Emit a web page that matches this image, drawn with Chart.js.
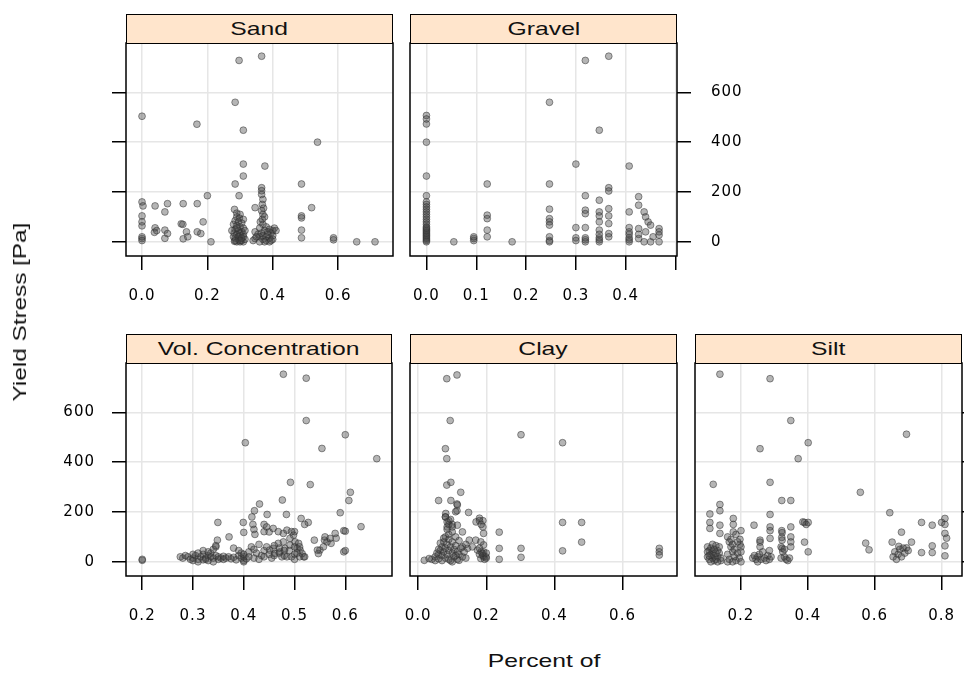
<!DOCTYPE html>
<html>
<head>
<meta charset="utf-8">
<script src="https://cdn.jsdelivr.net/npm/chart.js@4.4.1/dist/chart.umd.min.js"></script>
<style>
body { margin:0; width:964px; height:673px; overflow:hidden; background:#fff; position:relative; font-family:"Liberation Sans", Arial, sans-serif; }
.panel { position:absolute; }
.strip { position:absolute; height:30px; box-sizing:border-box; border:1.5px solid #000; background:#ffe5cc;
  display:flex; align-items:center; justify-content:center; font-size:19px; color:#111; }
.strip span, .lab span { display:inline-block; }
.lab { position:absolute; font-size:19px; color:#111; white-space:nowrap; }
</style>
</head>
<body>
<script>
// ---- data ----
const yTicks = [0, 200, 400, 600];

const sandTicks = [0, 0.2, 0.4, 0.6];
const sandPts = [
  [0.0,504],[0.297,728],[0.366,745],[0.285,560],[0.168,472],[0.31,448],[0.537,400],[0.31,312],[0.376,304],
  [0.31,264],[0.285,232],[0.488,232],[0.2,185],[0.297,185],[0.366,217],[0.366,205],[0.0,160],[0.003,144],
  [0.04,144],[0.078,153],[0.07,120],[0.126,153],[0.169,153],[0.519,137],[0.346,137],[0.488,104],[0.488,96],
  [0.0,104],[0.0,80],[0.0,64],[0.0,13],[0.0,20],[0.0,5],[0.04,56],[0.038,38],[0.045,45],[0.07,47],[0.078,33],
  [0.07,14],[0.12,72],[0.125,70],[0.136,40],[0.126,12],[0.14,20],[0.187,80],[0.169,40],[0.18,33],[0.211,0],
  [0.346,40],[0.346,13],[0.34,5],[0.488,47],[0.488,16],[0.586,16],[0.586,8],[0.657,0],[0.713,0],
  [0.283,130],[0.29,115],[0.3,110],[0.29,100],[0.298,95],[0.31,90],[0.285,85],[0.295,80],[0.305,75],[0.28,70],
  [0.29,65],[0.3,60],[0.31,55],[0.285,50],[0.295,45],[0.305,40],[0.282,35],[0.29,30],[0.3,25],[0.31,20],
  [0.285,15],[0.295,10],[0.305,5],[0.29,0],[0.3,0],[0.31,0],[0.283,2],[0.315,10],[0.3,35],[0.29,55],[0.31,30],
  [0.28,20],[0.295,20],[0.305,15],[0.315,45],[0.3,5],[0.285,5],[0.275,45],
  [0.366,190],[0.37,170],[0.368,150],[0.372,135],[0.366,125],[0.37,110],[0.375,100],[0.368,90],[0.362,80],
  [0.37,70],[0.38,60],[0.36,55],[0.39,50],[0.4,45],[0.375,45],[0.385,40],[0.395,35],[0.365,35],[0.355,30],
  [0.37,25],[0.38,20],[0.39,15],[0.4,10],[0.36,20],[0.37,10],[0.38,5],[0.39,0],[0.375,0],[0.36,0],[0.4,25],
  [0.405,55],[0.385,30],[0.35,20],[0.395,5],[0.41,45]
];

const gravelTicks = [0, 0.1, 0.2, 0.3, 0.4, 0.5];
const gravelPts = [
  [0,507],[0,493],[0,473],[0,400],[0,264],[0,185],[0,160],[0,150],[0,140],[0,130],[0,120],[0,110],[0,100],
  [0,90],[0,80],[0,70],[0,60],[0,50],[0,40],[0,30],[0,20],[0,10],[0,0],[0,5],[0,15],[0,25],[0,35],[0,45],[0,55],
  [0.055,0],[0.095,13],[0.095,5],[0.095,20],[0.122,232],[0.122,107],[0.122,93],[0.122,47],[0.122,20],[0.172,0],
  [0.247,560],[0.247,232],[0.247,131],[0.247,93],[0.247,80],[0.247,67],[0.247,20],[0.247,5],[0.247,0],
  [0.319,728],[0.366,745],[0.347,448],[0.3,312],[0.407,304],
  [0.319,185],[0.319,127],[0.319,113],[0.319,57],[0.319,16],[0.319,0],[0.319,8],[0.3,57],[0.3,16],[0.3,5],
  [0.347,167],[0.347,120],[0.347,104],[0.347,80],[0.347,47],[0.347,16],[0.347,0],[0.347,30],[0.347,8],
  [0.366,217],[0.366,204],[0.366,133],[0.366,104],[0.366,73],[0.366,33],[0.366,20],
  [0.407,120],[0.407,57],[0.407,40],[0.407,16],[0.407,0],[0.407,30],[0.407,8],
  [0.426,181],[0.426,147],[0.437,120],[0.44,100],[0.445,80],[0.426,53],[0.426,13],[0.437,0],[0.45,67],[0.45,0],
  [0.426,30],[0.44,40],[0.455,20],[0.467,53],[0.467,27],[0.467,0],[0.467,40]
];

const volTicks = [0.2, 0.3, 0.4, 0.5, 0.6];
const volPts = [
  [0.2,6],[0.2,10],[0.478,753],[0.523,737],[0.523,567],[0.403,478],[0.6,510],[0.554,455],[0.662,414],[0.492,319],
  [0.531,310],[0.61,279],[0.607,246],[0.476,248],[0.431,232],[0.421,205],[0.59,197],[0.484,190],[0.446,190],
  [0.349,158],[0.399,158],[0.513,174],[0.527,158],[0.631,141],[0.597,125],[0.4,118],[0.44,121],[0.5,121],
  [0.371,100],[0.348,87],[0.539,87],[0.559,87],[0.572,74],[0.582,95],[0.597,40],[0.6,45],
  [0.416,180],[0.418,150],[0.42,130],[0.422,110],[0.44,150],[0.445,140],[0.45,120],
  [0.458,134],[0.468,121],[0.478,114],[0.485,127],[0.494,121],[0.498,107],[0.491,94],[0.478,80],[0.468,74],
  [0.458,54],[0.451,47],[0.461,33],[0.471,40],[0.481,54],[0.491,67],[0.501,80],[0.508,74],[0.505,54],[0.511,47],
  [0.515,33],[0.518,20],[0.494,20],[0.485,20],[0.475,20],[0.52,150],
  [0.55,47],[0.557,60],[0.564,80],[0.57,94],[0.58,114],[0.6,123],[0.547,33],[0.545,47],[0.56,100],
  [0.275,20],[0.28,15],[0.285,25],[0.29,20],[0.295,10],[0.3,5],[0.3,15],[0.305,25],[0.31,10],[0.31,0],[0.315,20],
  [0.32,30],[0.32,8],[0.325,15],[0.33,25],[0.33,5],[0.335,35],[0.34,15],[0.34,0],[0.345,25],[0.35,10],[0.35,20],
  [0.355,15],[0.36,10],[0.36,22],[0.365,15],[0.37,20],[0.375,12],[0.38,18],[0.385,8],[0.39,25],[0.395,15],
  [0.4,5],[0.4,20],[0.4,30],[0.4,0],[0.405,12],[0.395,35],[0.3,30],[0.31,35],[0.32,45],[0.33,40],[0.34,50],
  [0.345,60],[0.335,20],[0.325,10],
  [0.345,65],[0.38,55],[0.39,45],[0.41,40],[0.415,60],[0.42,50],[0.43,70],[0.425,35],[0.435,25],[0.44,45],
  [0.445,60],[0.45,30],[0.41,20],[0.42,15],[0.43,10],[0.44,20],[0.455,15],[0.46,25],[0.47,35],[0.47,55],
  [0.46,65],[0.48,45],[0.48,25],[0.5,30],[0.5,10],[0.51,20],[0.5,60],[0.49,45],[0.505,35],[0.51,60],[0.52,20]
];

const clayTicks = [0, 0.2, 0.4, 0.6];
const clayPts = [
  [0.084,735],[0.114,750],[0.094,567],[0.302,510],[0.424,478],[0.08,454],[0.084,414],[0.084,308],[0.096,319],
  [0.125,279],[0.06,246],[0.096,246],[0.114,232],[0.114,205],[0.148,198],[0.18,175],[0.19,165],[0.17,160],
  [0.424,158],[0.48,158],[0.238,119],[0.48,79],[0.238,54],[0.302,54],[0.302,18],[0.238,10],[0.424,44],
  [0.708,54],[0.708,40],[0.708,27],[0.192,114],[0.192,68],[0.192,40],[0.192,20],[0.19,140],
  [0.115,228],[0.11,201],[0.081,194],[0.08,180],[0.09,165],[0.1,150],[0.085,140],[0.115,147],
  [0.13,120],[0.15,87],[0.169,87],[0.184,80],[0.13,60],[0.145,54],[0.159,60],[0.174,47],[0.189,33],[0.199,20],
  [0.184,13],[0.12,6],[0.018,6],[0.032,13],[0.18,165],[0.185,150],
  [0.04,10],[0.05,20],[0.05,5],[0.06,30],[0.06,12],[0.065,45],[0.07,60],[0.07,25],[0.07,5],[0.075,80],
  [0.075,40],[0.08,100],[0.08,15],[0.08,55],[0.085,130],[0.085,70],[0.085,30],[0.09,150],[0.09,110],[0.09,90],
  [0.09,45],[0.09,10],[0.095,170],[0.095,60],[0.1,120],[0.1,80],[0.1,35],[0.1,0],[0.105,50],[0.105,20],
  [0.11,100],[0.11,65],[0.115,40],[0.115,10],[0.12,30],[0.12,85],[0.125,55],[0.13,20],[0.135,40],[0.14,70],
  [0.14,15],[0.06,50],[0.065,75],[0.075,95],[0.08,180],[0.085,160],[0.1,140],[0.11,25],[0.095,5],[0.055,35],
  [0.18,30],[0.185,40],[0.19,25],[0.195,10],[0.2,15],[0.18,55],[0.2,35]
];

const siltTicks = [0.2, 0.4, 0.6, 0.8];
const siltPts = [
  [0.137,753],[0.287,735],[0.349,567],[0.695,512],[0.257,454],[0.401,478],[0.371,414],[0.117,311],[0.287,319],
  [0.557,279],[0.322,246],[0.349,246],[0.137,230],[0.137,205],[0.107,192],[0.645,197],[0.287,190],[0.177,174],
  [0.81,174],[0.74,158],[0.772,147],[0.8,158],[0.39,158],[0.401,158],[0.239,147],[0.107,158],[0.107,134],
  [0.137,147],[0.137,114],[0.2,125],[0.287,140],[0.287,125],[0.322,125],[0.322,98],[0.349,140],[0.349,100],
  [0.349,80],[0.39,79],[0.401,40],[0.573,75],[0.583,48],[0.68,119],[0.652,79],[0.71,79],[0.695,56],[0.772,64],
  [0.74,37],[0.772,37],[0.81,114],[0.81,64],[0.81,24],[0.257,79],[0.81,150],[0.815,95],[0.395,150],
  [0.177,150],[0.177,120],[0.197,90],[0.197,70],[0.257,87],[0.257,60],[0.287,94],[0.323,117],[0.323,87],
  [0.323,54],[0.349,60],[0.385,160],
  [0.1,60],[0.105,45],[0.11,30],[0.115,15],[0.12,5],[0.1,20],[0.105,10],[0.11,55],[0.115,40],[0.12,25],
  [0.125,65],[0.125,10],[0.13,45],[0.13,20],[0.135,35],[0.14,5],[0.11,0],[0.1,40],[0.12,50],[0.135,60],
  [0.14,15],[0.115,70],[0.13,0],[0.105,25],[0.125,35],
  [0.16,100],[0.165,80],[0.17,60],[0.175,40],[0.18,20],[0.185,5],[0.16,30],[0.165,10],[0.17,90],[0.175,70],
  [0.18,50],[0.19,35],[0.195,15],[0.2,0],[0.2,60],[0.19,80],[0.16,0],[0.175,0],[0.185,110],[0.2,40],
  [0.235,15],[0.245,10],[0.25,20],[0.255,30],[0.26,10],[0.27,15],[0.275,5],[0.28,25],[0.285,10],[0.29,20],
  [0.24,25],[0.265,40],[0.285,45],[0.25,0],
  [0.32,60],[0.325,40],[0.33,20],[0.335,10],[0.34,5],[0.345,15],[0.32,15],[0.33,50],
  [0.66,40],[0.67,30],[0.655,20],[0.675,50],[0.68,20],[0.685,55],[0.672,62],[0.665,10],[0.69,35],[0.7,45]
];

// ---- layout ----
const PAD_L = 120, PAD_R = 120, PAD_T = 10, AX_H = 70, AX_W = 90;
const tickFont = { family: 'DejaVu Sans', size: 15 };

const frame = {
  id: 'frame',
  beforeDraw(c) { c.ctx.letterSpacing = '1px'; },
  afterDraw(c) {
    const a = c.chartArea, ctx = c.ctx;
    ctx.save();
    ctx.strokeStyle = '#000';
    ctx.lineWidth = 1.5;
    ctx.strokeRect(a.left, a.top, a.right - a.left, a.bottom - a.top);
    ctx.restore();
  }
};

function panel(name, pts, box, xr, xt, yside, ylab, skipLast) {
  const wrap = document.createElement('div');
  wrap.className = 'panel';
  wrap.style.left = (box[0] - PAD_L) + 'px';
  wrap.style.top = (box[1] - PAD_T) + 'px';
  const cv = document.createElement('canvas');
  cv.width = box[2] + PAD_L + PAD_R;
  cv.height = box[3] + PAD_T + AX_H;
  wrap.appendChild(cv);
  document.body.appendChild(wrap);

  const s = document.createElement('div');
  s.className = 'strip';
  s.style.left = box[0] + 'px';
  s.style.top = (box[1] - 29) + 'px';
  s.style.width = box[2] + 'px';
  s.innerHTML = '<span style="transform:scaleX(1.3)">' + name + '</span>';
  document.body.appendChild(s);

  const pos = yside === 'right' ? 'right' : 'left';
  new Chart(cv, {
    type: 'scatter',
    data: {
      datasets: [{
        data: pts.map(p => ({ x: p[0], y: p[1] })),
        backgroundColor: 'rgba(70,70,70,0.4)',
        borderColor: 'rgba(45,45,45,0.5)',
        borderWidth: 1,
        pointRadius: 3.4,
        pointHoverRadius: 3.4
      }]
    },
    options: {
      responsive: false,
      animation: false,
      events: [],
      layout: { padding: { top: PAD_T, bottom: 0,
        left: pos === 'left' ? PAD_L - AX_W : PAD_L,
        right: pos === 'right' ? PAD_R - AX_W : PAD_R } },
      plugins: { legend: { display: false }, tooltip: { enabled: false } },
      scales: {
        x: {
          type: 'linear', position: 'bottom', min: xr[0], max: xr[1],
          afterBuildTicks: sc => { sc.ticks = xt.map(v => ({ value: v })); },
          afterFit: sc => { sc.height = AX_H; sc.paddingLeft = 0; sc.paddingRight = 0; },
          grid: { color: '#e6e6e6', lineWidth: 1.5, tickColor: '#000', tickLength: 14, tickWidth: 1.5 },
          border: { display: false },
          ticks: { padding: 17, color: '#000', font: tickFont, maxRotation: 0, autoSkip: false,
            callback: (v, i) => (skipLast && i === xt.length - 1) ? '' : v.toFixed(1) }
        },
        y: {
          type: 'linear', position: pos, min: -57, max: 798,
          afterBuildTicks: sc => { sc.ticks = yTicks.map(v => ({ value: v })); },
          afterFit: sc => { sc.width = AX_W; sc.paddingTop = 0; sc.paddingBottom = 0; },
          grid: { color: '#e6e6e6', lineWidth: 1.5, tickColor: '#000', tickLength: 14, tickWidth: 1.5,
            drawTicks: yside !== 'none' },
          border: { display: false },
          ticks: { display: ylab, padding: pos === 'right' ? 20 : 17, color: '#000', font: tickFont,
            callback: v => String(v) }
        }
      }
    },
    plugins: [frame]
  });
}

panel('Sand', sandPts, [126, 43, 267, 213], [-0.049, 0.768], sandTicks, 'left', false, false);
panel('Gravel', gravelPts, [410, 43, 267, 213], [-0.033, 0.503], gravelTicks, 'right', true, true);
panel('Vol. Concentration', volPts, [126, 363, 266, 213], [0.168, 0.692], volTicks, 'left', true, false);
panel('Clay', clayPts, [410, 363, 267, 213], [-0.024, 0.76], clayTicks, 'none', false, false);
panel('Silt', siltPts, [695, 363, 267, 213], [0.0625, 0.861], siltTicks, 'right', false, false);

// axis titles
const yl = document.createElement('div');
yl.className = 'lab';
yl.style.left = '20px'; yl.style.top = '312px';
yl.style.transform = 'translate(-50%,-50%) rotate(-90deg) scaleX(1.28)';
yl.textContent = 'Yield Stress [Pa]';
document.body.appendChild(yl);

const xl = document.createElement('div');
xl.className = 'lab';
xl.style.left = '544px'; xl.style.top = '661px';
xl.style.transform = 'translate(-50%,-50%) scaleX(1.3)';
xl.textContent = 'Percent of';
document.body.appendChild(xl);
</script>
</body>
</html>
